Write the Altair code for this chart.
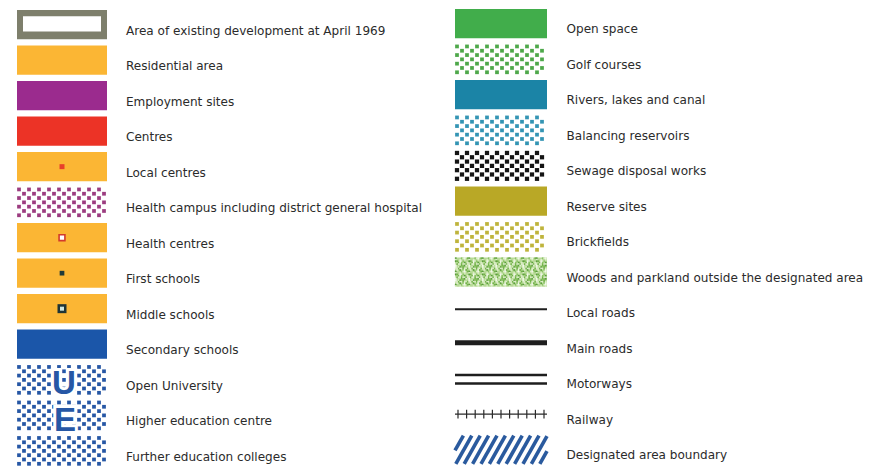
import altair as alt
import pandas as pd

# ---------------- legend content ----------------
left_labels = [
    "Area of existing development at April 1969",
    "Residential area",
    "Employment sites",
    "Centres",
    "Local centres",
    "Health campus including district general hospital",
    "Health centres",
    "First schools",
    "Middle schools",
    "Secondary schools",
    "Open University",
    "Higher education centre",
    "Further education colleges",
]
left_kinds = ["frame", "solid", "solid", "solid", "solid", "dots", "solid",
              "solid", "solid", "solid", "dots", "dots", "dots"]
left_colors = ["#7e7f6c", "#fbb634", "#9b2b8e", "#ec3326", "#fbb634", "#9c3c80",
               "#fbb634", "#fbb634", "#fbb634", "#1b56a9", "#2657a5", "#2657a5", "#2657a5"]
left_symbols = ["", "", "", "", "local", "", "health", "first", "middle", "", "U", "E", ""]

right_labels = [
    "Open space",
    "Golf courses",
    "Rivers, lakes and canal",
    "Balancing reservoirs",
    "Sewage disposal works",
    "Reserve sites",
    "Brickfields",
    "Woods and parkland outside the designated area",
    "Local roads",
    "Main roads",
    "Motorways",
    "Railway",
    "Designated area boundary",
]
right_kinds = ["solid", "dots", "solid", "dots", "dots", "solid", "dots", "woods",
               "local_road", "main_road", "motorway", "railway", "hatch"]
right_colors = ["#41ad4b", "#4ea84a", "#1b84a6", "#3495b4", "#141414", "#b9a826",
                "#bfb43c", "#b7da96", "#1e1e1e", "#1e1e1e", "#1e1e1e", "#2a2a2a", "#2a5a9e"]

# ---------------- layout (style) ----------------
COL_X0 = [17, 455]
COL_W = [90, 92]
LABEL_X = [126, 566.5]
TOP0 = [5, 4]
STEP = 36.28
SW_H = 30
LABEL_DY = [21.0, 20.5]

items = []
for col, (labels, kinds, colors) in enumerate([(left_labels, left_kinds, left_colors),
                                               (right_labels, right_kinds, right_colors)]):
    for row, (lab, kind, colr) in enumerate(zip(labels, kinds, colors)):
        x0 = COL_X0[col]
        y0 = TOP0[col] + row * STEP
        items.append(dict(col=col, row=row, label=lab, kind=kind, color=colr,
                          x0=x0, x1=x0 + COL_W[col], y0=y0, y1=y0 + SW_H,
                          lx=LABEL_X[col], ly=y0 + LABEL_DY[col],
                          sym=left_symbols[row] if col == 0 else ""))
items_df = pd.DataFrame(items)

# solid rectangles (and the frame)
rects = []
for it in items:
    if it["kind"] in ("solid", "frame", "woods"):
        rects.append(dict(x0=it["x0"], x1=it["x1"], y0=it["y0"], y1=it["y1"], color=it["color"]))
    if it["kind"] == "frame":
        rects.append(dict(x0=it["x0"] + 6, x1=it["x1"] - 6, y0=it["y0"] + 6.5, y1=it["y1"] - 8,
                          color="#ffffff"))
rects_df = pd.DataFrame(rects)

# dotted textures
dots = []
for it in items:
    if it["kind"] == "dots":
        side = 18 if it["color"] == "#141414" else 14
        for k in range(7):
            yy = it["y0"] + 2.0 + k * 4.4
            xx = it["x0"] + 2.0 + (k % 2) * 5
            while xx <= it["x1"] - 1.2:
                dots.append(dict(x=xx, y=yy, color=it["color"], s=side))
                xx += 10
    if it["kind"] == "woods":
        speck = {0: "#5b9e3c", 1: "#74b24c", 2: "#8cc466", 3: "#f2f8ea", 4: "#dcedc8"}
        for i in range(61):
            for j in range(20):
                h = (i * i * 3 + j * j * 5 + i * j * 7 + i * 11 + j * 17) % 9
                if h in speck:
                    dots.append(dict(x=it["x0"] + 0.75 + 1.5 * i, y=it["y0"] + 0.75 + 1.5 * j,
                                     color=speck[h], s=3))
dots_df = pd.DataFrame(dots)

# line symbols, railway ticks, hatching
rules = []
for it in items:
    t, x0, x1, y0 = it["kind"], it["x0"], it["x1"], it["y0"]
    if t == "local_road":
        rules.append(dict(x0=x0, x1=x1, y0=y0 + 16.5, y1=y0 + 16.5, color=it["color"], w=2))
    elif t == "main_road":
        rules.append(dict(x0=x0, x1=x1, y0=y0 + 14.5, y1=y0 + 14.5, color=it["color"], w=5))
    elif t == "motorway":
        for dy in (11.3, 19.8):
            rules.append(dict(x0=x0, x1=x1, y0=y0 + dy, y1=y0 + dy, color=it["color"], w=2.5))
    elif t == "railway":
        rules.append(dict(x0=x0, x1=x1, y0=y0 + 15, y1=y0 + 15, color=it["color"], w=1.3))
        for n in range(11):
            tx = x0 + 3 + n * (x1 - x0 - 6) / 10
            rules.append(dict(x0=tx, x1=tx, y0=y0 + 10.5, y1=y0 + 19.5, color=it["color"], w=1.2))
    elif t == "hatch":
        dx, h = 16.0, SW_H - 1
        c = x0 - dx
        while c < x1:
            ta = max(0.0, (x0 - c) / dx)
            tb = min(1.0, (x1 - c) / dx)
            if tb > ta:
                rules.append(dict(x0=c + dx * ta, x1=c + dx * tb,
                                  y0=it["y1"] - 0.5 - h * ta, y1=it["y1"] - 0.5 - h * tb,
                                  color=it["color"], w=3.6))
            c += 8.4
rules_df = pd.DataFrame(rules)

# point symbols inside orange swatches
sym_style = {
    "local": [("#e8402a", "#e8402a", 0, 25)],
    "health": [("#ffffff", "#d23a2c", 1.6, 34)],
    "first": [("#1f3a38", "#1f3a38", 0, 22)],
    "middle": [("#1e3436", "#1e3436", 0, 81), ("#cfe8e2", "#cfe8e2", 0, 16)],
}
syms = []
for it in items:
    if it["sym"] in sym_style:
        cx = (it["x0"] + it["x1"]) / 2
        cy = it["y0"] + 15
        for f, s, w, sz in sym_style[it["sym"]]:
            syms.append(dict(x=cx, y=cy, fill=f, stroke=s, w=w, s=sz))
syms_df = pd.DataFrame(syms)

letters = []
for it in items:
    if it["sym"] == "U":
        letters.append(dict(x=64, y=it["y0"] + 29.5, t="U"))
    if it["sym"] == "E":
        letters.append(dict(x=65, y=it["y0"] + 31.5, t="E"))
letters_df = pd.DataFrame(letters)

# ---------------- chart ----------------
XS = alt.Scale(domain=[8, 869], nice=False, zero=False)
YS = alt.Scale(domain=[3, 471], nice=False, zero=False, reverse=True)


def xq(f):
    return alt.X(f, type="quantitative", scale=XS, axis=None)


def yq(f):
    return alt.Y(f, type="quantitative", scale=YS, axis=None)


rect_layer = alt.Chart(rects_df).mark_rect(strokeWidth=0).encode(
    x=xq("x0"), x2="x1", y=yq("y0"), y2="y1",
    fill=alt.Fill("color:N", scale=None))

dot_layer = alt.Chart(dots_df).mark_square(opacity=1, strokeWidth=0).encode(
    x=xq("x"), y=yq("y"),
    fill=alt.Fill("color:N", scale=None),
    size=alt.Size("s:Q", scale=None))

rule_layer = alt.Chart(rules_df).mark_rule().encode(
    x=xq("x0"), x2="x1", y=yq("y0"), y2="y1",
    color=alt.Color("color:N", scale=None),
    strokeWidth=alt.StrokeWidth("w:Q", scale=None))

sym_layer = alt.Chart(syms_df).mark_square(opacity=1).encode(
    x=xq("x"), y=yq("y"),
    fill=alt.Fill("fill:N", scale=None),
    stroke=alt.Stroke("stroke:N", scale=None),
    strokeWidth=alt.StrokeWidth("w:Q", scale=None),
    size=alt.Size("s:Q", scale=None))

halo_layer = alt.Chart(letters_df).mark_text(
    align="center", baseline="alphabetic", font="Liberation Sans", fontSize=33,
    fontWeight="bold", fill="#ffffff", stroke="#ffffff", strokeWidth=6).encode(
    x=xq("x"), y=yq("y"), text="t:N")

letter_layer = alt.Chart(letters_df).mark_text(
    align="center", baseline="alphabetic", font="Liberation Sans", fontSize=33,
    fontWeight="bold", color="#2657a5").encode(
    x=xq("x"), y=yq("y"), text="t:N")

label_layer = alt.Chart(items_df).mark_text(
    align="left", baseline="middle", font="DejaVu Sans", fontSize=12.05,
    color="#2b2b2b").encode(
    x=xq("lx"), y=yq("ly"), text="label:N")

chart = alt.layer(
    rect_layer, dot_layer, rule_layer, sym_layer, halo_layer, letter_layer, label_layer
).properties(
    width=861, height=458,
    autosize=alt.AutoSizeParams(type="fit", contains="padding"),
    padding=0, background="#ffffff",
).configure_view(stroke=None)

chart.save("out.html", embed_options={"renderer": "svg", "actions": False})
